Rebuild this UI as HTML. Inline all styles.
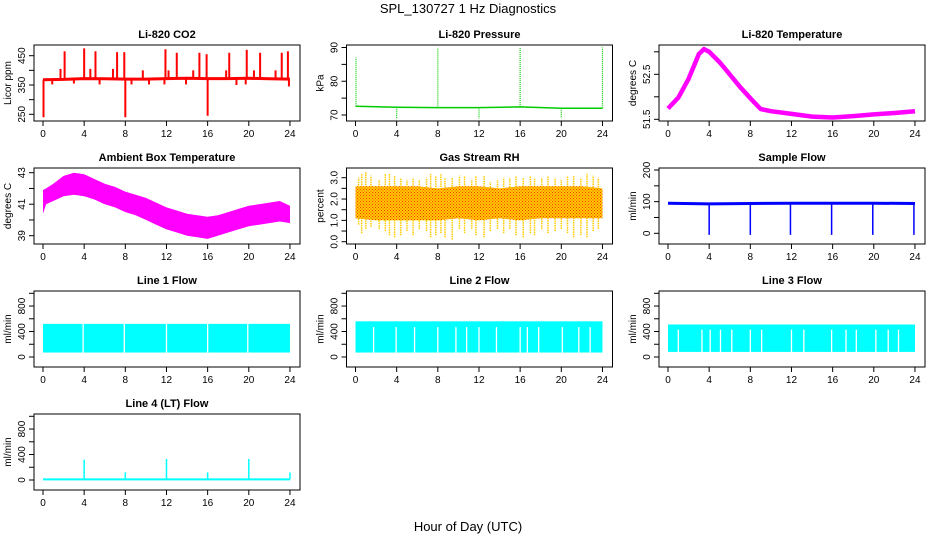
<!DOCTYPE html>
<html><head><meta charset="utf-8"><style>
html,body{margin:0;padding:0;background:#fff}
svg{display:block;font-family:"Liberation Sans",Helvetica,sans-serif}
</style></head><body>
<svg id="chart" width="936" height="540" viewBox="0 0 936 540">
<defs>
<pattern id="rhpat" width="3" height="3" patternUnits="userSpaceOnUse">
<rect width="3" height="3" fill="#ffcc00"/><rect x="0" y="0" width="1" height="1" fill="#ff3300"/><rect x="1.5" y="1.5" width="1" height="1" fill="#ff3300"/>
</pattern>
</defs>
<text x="468" y="13" font-size="13" text-anchor="middle">SPL_130727  1 Hz Diagnostics</text>
<text x="468" y="531" font-size="13" text-anchor="middle">Hour of Day (UTC)</text>
</svg>
<script>
// ---- data ----
const xTicks = [0,4,8,12,16,20,24];
// CO2
const co2BaseHours = [0,2,4,6,8,10,12,14,16,18,20,22,24];
const co2Base = [368,369,372,371,370,370,372,373,372,372,373,371,370];
const co2SpikeHours = [0.05,1.7,2.1,4.0,4.6,5.1,6.8,7.2,7.9,8.0,9.7,11.9,12.2,13.0,14.6,15.2,15.9,16.0,17.8,18.1,19.8,20.5,21.1,22.6,23.2,23.8,0.9,3.0,5.5,8.6,10.3,11.8,13.9,18.8,19.7,23.9];
const co2SpikeVals  = [240,405,465,475,405,465,405,462,462,240,400,472,400,460,400,460,455,245,400,460,470,400,460,400,460,465,352,355,352,352,352,352,352,350,352,345];
// Pressure
const presBaseHours = [0,4,8,12,16,20,24];
const presBase = [72.6,72.3,72.2,72.2,72.4,72.0,72.0];
const presSpikeHours = [0.05,8.0,16.0,24.0,4.0,12.0,20.0];
const presSpikeVals = [87,90,90,90,69,69,69];
// Li-820 temperature
const tempHours = [0,1,2,3,3.5,4,5,6,7,8,9,10,12,14,16,18,20,22,24];
const tempVals = [51.74,51.98,52.4,52.95,53.06,53.0,52.77,52.5,52.22,51.97,51.73,51.68,51.62,51.56,51.54,51.57,51.61,51.64,51.68];
// Ambient box temperature envelope
const ambHours = [0,0.3,1,2,3,4,5,6,7,8,9,10,11,12,13,14,15,16,17,18,19,20,21,22,23,24];
const ambLo = [40.4,41.0,41.2,41.5,41.6,41.5,41.3,41.0,40.8,40.5,40.3,40.0,39.7,39.4,39.2,39.0,38.9,38.8,39.0,39.2,39.4,39.6,39.7,39.8,39.9,39.8];
const ambHi = [41.9,42.0,42.3,42.8,43.0,42.9,42.6,42.3,42.1,41.8,41.6,41.4,41.1,40.8,40.6,40.4,40.3,40.2,40.3,40.5,40.7,40.9,41.0,41.1,41.2,40.9];
// Gas stream RH
const rhHours = [0,2,4,6,8,10,12,14,16,18,20,22,24];
const rhLo = [1.1,1.0,1.0,1.0,1.0,1.1,1.0,1.1,1.0,1.1,1.1,1.1,1.1];
const rhHi = [2.6,2.6,2.6,2.6,2.5,2.6,2.6,2.5,2.6,2.6,2.6,2.6,2.5];
const rhSpikeHours = [0.3,0.6,1.0,1.5,2.3,2.9,3.3,3.8,4.4,5.0,5.6,6.2,6.9,7.3,7.8,8.3,8.7,9.4,10.1,10.6,11.3,11.7,12.5,13.1,13.8,14.4,15.0,15.6,16.3,17.0,17.4,18.1,18.7,19.4,20.0,20.6,21.2,21.9,22.5,23.1,23.6];
const rhSpikeHi = [3.0,3.2,3.3,3.1,2.9,3.2,3.2,3.1,3.0,2.9,3.0,2.9,3.0,3.2,3.1,3.2,3.0,3.0,3.1,3.1,2.9,3.1,3.1,2.8,2.9,3.0,3.0,3.1,3.0,3.1,3.0,3.0,3.1,3.0,2.9,3.1,3.1,3.0,3.2,3.1,3.0];
const rhSpikeLo = [0.8,0.4,0.6,0.7,0.6,0.5,0.3,0.2,0.3,0.5,0.3,0.6,0.5,0.2,0.3,0.4,0.2,0.1,0.6,0.4,0.6,0.3,0.2,0.5,0.6,0.4,0.6,0.3,0.2,0.4,0.3,0.6,0.4,0.5,0.6,0.4,0.2,0.3,0.2,0.5,0.6];
// Sample flow
const sfBaseHours = [0,4,8,12,16,20,24];
const sfBase = [95,93,94,95,95,95,94];
const sfDipHours = [4.0,8.0,11.9,15.9,19.9,23.9];
const sfDipVals = [-5,-5,-5,-5,-5,-5];
// Line flows
const l1Lo = 70, l1Hi = 520;
const l1Gaps = [3.9,7.9,12.0,16.0,19.9];
const l2Lo = 70, l2Hi = 560, l2GapTop = 470;
const l2Gaps = [1.76,3.95,5.74,8.0,9.76,10.8,12.0,13.7,16.0,16.7,17.8,20.1,21.7,22.8];
const l3Lo = 80, l3Hi = 510, l3GapTop = 430;
const l3Gaps = [1.0,3.3,4.1,5.1,6.2,8.0,9.1,12.0,13.2,15.9,17.3,18.3,20.2,21.4,22.4];
// Line 4 flow
const l4Base = 10;
const l4SpikeHours = [4.0,8.0,12.0,16.0,20.0,24.0];
const l4SpikeVals = [320,120,330,120,330,120];

// ---- layout ----
const svg = document.getElementById('chart');
const NS = 'http://www.w3.org/2000/svg';
function mk(tag, attrs, parent){const e=document.createElementNS(NS,tag);for(const k in attrs)e.setAttribute(k,attrs[k]);(parent||svg).appendChild(e);return e;}

function panel(col,row,title,ytitle,v1,p1,v2,p2,ticks,labels,name){
  const dy = 123*row;
  const L = 34+312.5*col, R = L+266, T = 45+dy, B = 121+dy;
  const x0 = 43+312.5*col;
  const X = h => x0 + h*10.29;
  const Y = v => dy + p1 + (v-v1)*(p2-p1)/(v2-v1);
  const g = mk('g',{});
  
  
  const t = mk('text',{x:(L+R)/2,y:T-7,'font-size':11,'font-weight':'bold','text-anchor':'middle'},g);
  t.textContent = title;
  
  
  const marks = mk('g',{},g);
  
  
  const box = mk('rect',{x:L,y:T,width:R-L,height:B-T,fill:'none',stroke:'#000','stroke-width':1},g);
  
  
  const xa = mk('g',{},g);
  
  
  xTicks.forEach(h=>{
    mk('line',{x1:X(h),x2:X(h),y1:B,y2:B+5,stroke:'#000'},xa);
    const tx = mk('text',{x:X(h),y:B+16,'font-size':10,'text-anchor':'middle'},xa);
    tx.textContent = h;
  });
  const ya = mk('g',{},g);
  
  
  ticks.forEach(v=>{ mk('line',{x1:L-5,x2:L,y1:Y(v),y2:Y(v),stroke:'#000'},ya); });
  labels.forEach(v=>{
    const tx = mk('text',{x:L-9,y:Y(v),'font-size':10,'text-anchor':'middle',transform:`rotate(-90 ${L-9} ${Y(v)})`},ya);
    tx.textContent = v;
  });
  const yt = mk('text',{x:L-23,y:(T+B)/2,'font-size':10,'text-anchor':'middle',transform:`rotate(-90 ${L-23} ${(T+B)/2})`},g);
  yt.textContent = ytitle;
  
  
  return {X,Y,marks};
}
function poly(p,hs,vs,stroke,w,extra){
  const pts = hs.map((h,i)=>p.X(h).toFixed(1)+','+p.Y(vs[i]).toFixed(1)).join(' ');
  return mk('polyline',Object.assign({points:pts,fill:'none',stroke:stroke,'stroke-width':w,'stroke-linejoin':'round'},extra||{}),p.marks);
}
function vline(p,h,a,b,stroke,w,extra){
  return mk('line',Object.assign({x1:p.X(h),x2:p.X(h),y1:p.Y(a),y2:p.Y(b),stroke:stroke,'stroke-width':w},extra||{}),p.marks);
}
function band(p,hs,lo,hi,fill){
  const pts = hs.map((h,i)=>p.X(h).toFixed(1)+','+p.Y(hi[i]).toFixed(1)).concat(hs.slice().reverse().map((h,j)=>{const i=hs.length-1-j;return p.X(h).toFixed(1)+','+p.Y(lo[i]).toFixed(1);})).join(' ');
  return mk('polygon',{points:pts,fill:fill},p.marks);
}
function interp(hs,vs,h){for(let i=1;i<hs.length;i++){if(h<=hs[i]){const f=(h-hs[i-1])/(hs[i]-hs[i-1]);return vs[i-1]+f*(vs[i]-vs[i-1]);}}return vs[vs.length-1];}

// CO2
let p = panel(0,0,'Li-820 CO2','Licor ppm',450,55.7,250,114.3,[250,300,350,400,450],[250,350,450],'co2');
poly(p,co2BaseHours,co2Base,'#ff0000',3);
co2SpikeHours.forEach((h,i)=>{const b=interp(co2BaseHours,co2Base,h);vline(p,h,b,co2SpikeVals[i],'#ff0000',2);});
// Pressure
p = panel(1,0,'Li-820 Pressure','kPa',90,47.5,70,115,[70,75,80,85,90],[70,80,90],'pressure');
poly(p,presBaseHours,presBase,'#00cc00',1.5);
presSpikeHours.forEach((h,i)=>{const b=interp(presBaseHours,presBase,h);vline(p,h,b,presSpikeVals[i],'#00cc00',1.2,{'stroke-dasharray':'1,1'});});
// Temp
p = panel(2,0,'Li-820 Temperature','degrees C',52.5,74.3,51.5,119.3,[51.5,52,52.5,53],[51.5,52.5],'li820-temp');
poly(p,tempHours,tempVals,'#ff00ff',4.5);
// Ambient
p = panel(0,1,'Ambient Box Temperature','degrees C',43,49.7,39,112.7,[39,40,41,42,43],[39,41,43],'ambient-temp');
band(p,ambHours,ambLo,ambHi,'#ff00ff');
// RH
p = panel(1,1,'Gas Stream RH','percent',3.0,54.7,0.0,118.7,[0,0.5,1,1.5,2,2.5,3],['0.0','1.0','2.0','3.0'],'gas-rh');
rhSpikeHours.forEach((h,i)=>{vline(p,h,rhSpikeLo[i],rhSpikeHi[i],'#ffcc00',1.5,{'stroke-dasharray':'1.5,0.8'});});
band(p,rhHours,rhLo,rhHi,'url(#rhpat)');
// Sample flow
p = panel(2,1,'Sample Flow','ml/min',200,47,0,110.3,[0,50,100,150,200],[0,100,200],'sample-flow');
poly(p,sfBaseHours,sfBase,'#0000ff',3);
sfDipHours.forEach((h,i)=>{const b=interp(sfBaseHours,sfBase,h);vline(p,h,b,sfDipVals[i],'#0000ff',1.5);});
// Line flows
function flow(col,row,title,name,lo,hi,gaps,gapTop){
  const q = panel(col,row,title,'ml/min',0,111,1000,47.3,[0,200,400,600,800,1000],[0,400,800],name);
  const r = mk('rect',{x:q.X(0),y:q.Y(hi),width:q.X(24)-q.X(0),height:q.Y(lo)-q.Y(hi),fill:'#00ffff'},q.marks);
  
  
  gaps.forEach(h=>{vline(q,h,lo-2,gapTop,'#ffffff',1.3);});
  return q;
}
flow(0,2,'Line 1 Flow','line1-flow',l1Lo,l1Hi,l1Gaps,l1Hi+2);
flow(1,2,'Line 2 Flow','line2-flow',l2Lo,l2Hi,l2Gaps,l2GapTop);
flow(2,2,'Line 3 Flow','line3-flow',l3Lo,l3Hi,l3Gaps,l3GapTop);
// Line 4
p = panel(0,3,'Line 4 (LT) Flow','ml/min',0,111,1000,47.3,[0,200,400,600,800,1000],[0,400,800],'line4-flow');
poly(p,[0,24],[l4Base,l4Base],'#00ffff',2);
l4SpikeHours.forEach((h,i)=>{vline(p,h,l4Base,l4SpikeVals[i],'#00ffff',1.5);});
</script>
</body></html>
